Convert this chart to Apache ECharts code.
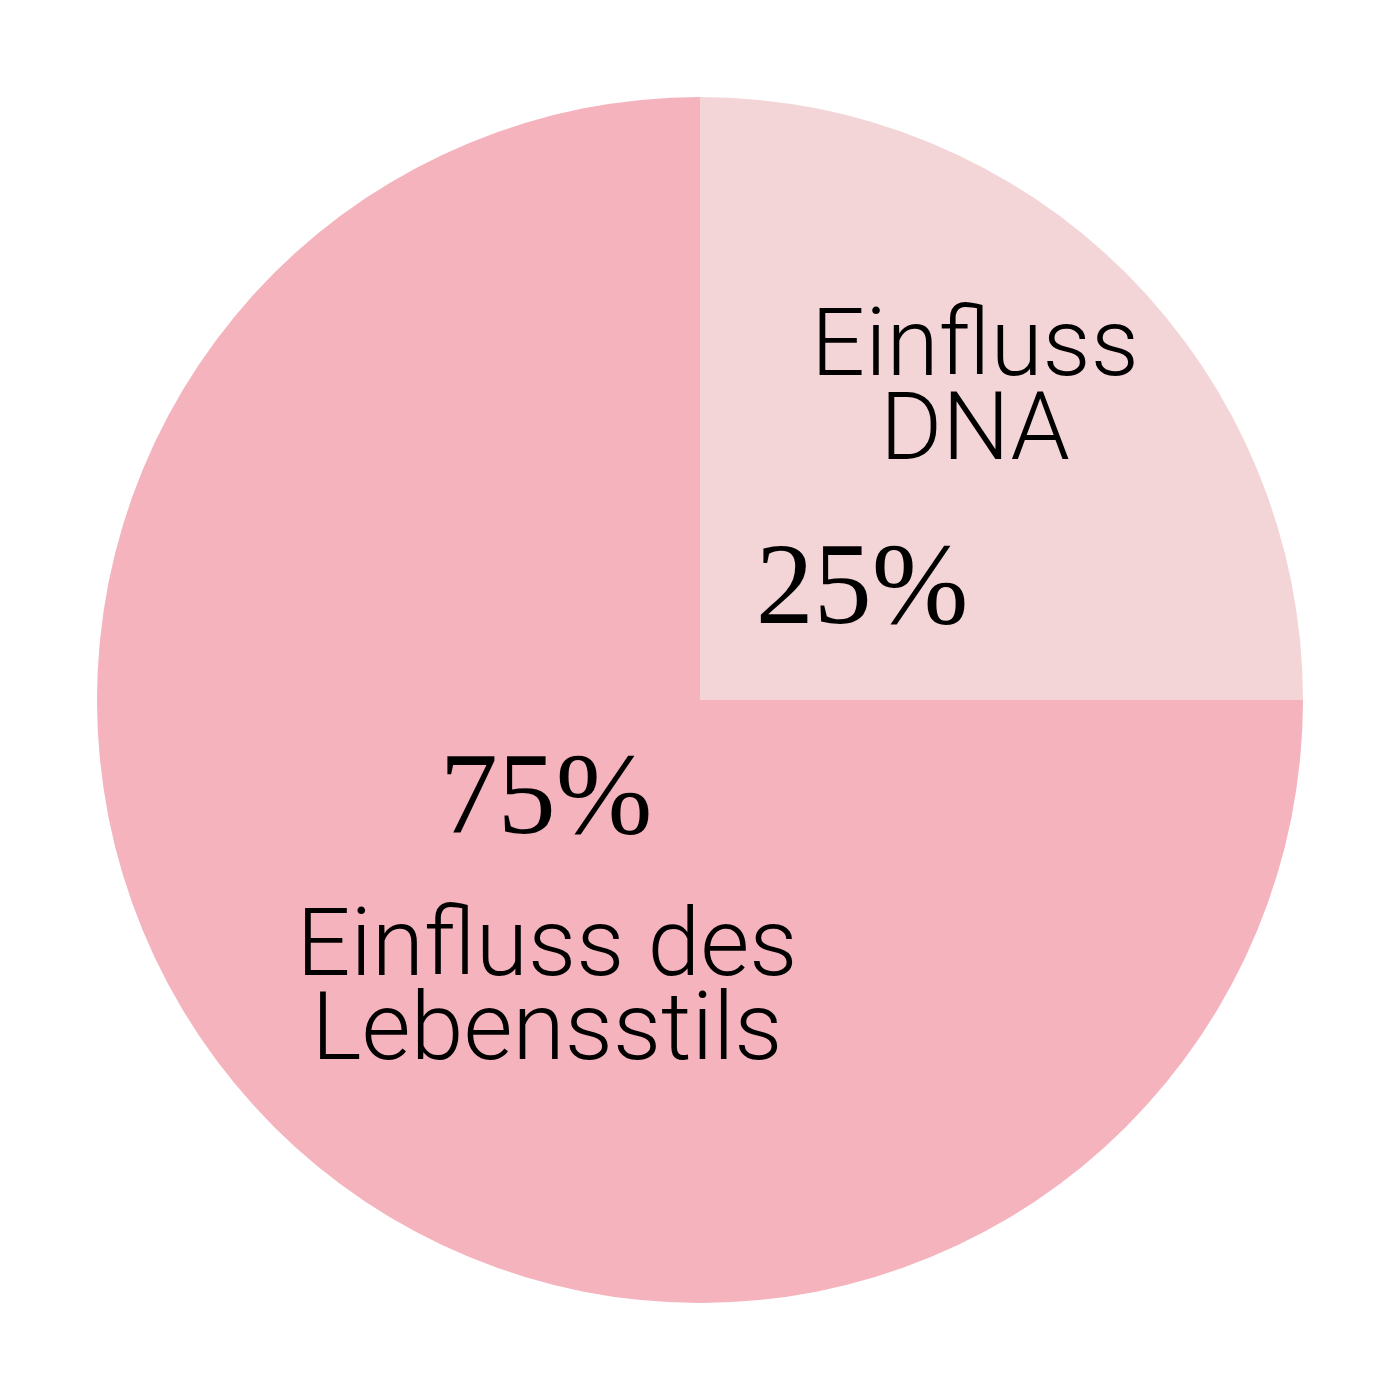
<!DOCTYPE html>
<html><head><meta charset="utf-8">
<script src="https://cdn.jsdelivr.net/npm/echarts@6/dist/echarts.min.js"></script>
<style>html,body{margin:0;padding:0;background:#fff}#c{width:1400px;height:1400px}</style>
</head><body><div id="c"></div>
<script>
const categories = ['Einfluss DNA', 'Einfluss des Lebensstils'];
const labelLines = [['Einfluss', 'DNA'], ['Einfluss des', 'Lebensstils']];
const values = [25, 75];
const colors = ['#F3D5D7', '#F4B3BD'];

const chart = echarts.init(document.getElementById('c'), null, {renderer: 'canvas'});
const sansFont = 'Roboto';
const serifFont = '"Liberation Serif", "DejaVu Serif", serif';
const textStyleName = {fill: '#000', fontFamily: sansFont, fontWeight: 300, fontSize: 95, lineHeight: 84, align: 'center', verticalAlign: 'top'};
const textStylePct = {fill: '#000', fontFamily: serifFont, fontWeight: 400, fontSize: 116, align: 'center', verticalAlign: 'bottom'};

chart.setOption({
  animation: false,
  backgroundColor: '#ffffff',
  series: [{
    type: 'pie',
    center: [700, 700],
    radius: 603,
    startAngle: 90,
    clockwise: true,
    label: {show: false},
    labelLine: {show: false},
    emphasis: {disabled: true},
    itemStyle: {borderWidth: 0},
    data: categories.map((c, i) => ({name: c, value: values[i], itemStyle: {color: colors[i]}}))
  }],
  graphic: {
    elements: [
      {type: 'text', z: 100, x: 975, y: 309, style: Object.assign({}, textStyleName, {text: labelLines[0].join('\n')})},
      {type: 'text', z: 100, x: 862, y: 651, style: Object.assign({}, textStylePct, {text: values[0] + '%'})},
      {type: 'text', z: 100, x: 547, y: 909, style: Object.assign({}, textStyleName, {text: labelLines[1].join('\n')})},
      {type: 'text', z: 100, x: 546, y: 861, style: Object.assign({}, textStylePct, {text: values[1] + '%'})}
    ]
  }
});
</script></body></html>
